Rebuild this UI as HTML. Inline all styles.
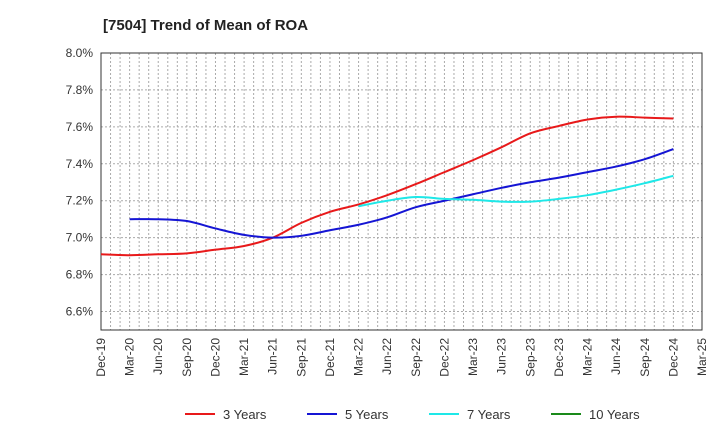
<!DOCTYPE html>
<html><head><meta charset="utf-8"><style>
body{margin:0;background:#fff;font-family:"Liberation Sans",sans-serif;}
svg text{font-family:"Liberation Sans",sans-serif;}
</style></head><body>
<svg id="chart" width="720" height="440" xmlns="http://www.w3.org/2000/svg">
<text x="103" y="30" font-size="15" font-weight="bold" fill="#222">[7504]  Trend of Mean of ROA</text>
<g id="grid"></g><g id="axes"></g><g id="series"></g><g id="legend"></g>
</svg>
<script>
const xLabels=["Dec-19","Mar-20","Jun-20","Sep-20","Dec-20","Mar-21","Jun-21","Sep-21","Dec-21","Mar-22","Jun-22","Sep-22","Dec-22","Mar-23","Jun-23","Sep-23","Dec-23","Mar-24","Jun-24","Sep-24","Dec-24","Mar-25"];
const yTicks=[6.6,6.8,7.0,7.2,7.4,7.6,7.8,8.0];
const s3=[6.91,6.905,6.91,6.915,6.935,6.955,7.00,7.08,7.14,7.18,7.23,7.29,7.355,7.42,7.49,7.565,7.605,7.64,7.655,7.65,7.645];
const s5=[null,7.10,7.10,7.09,7.05,7.015,7.00,7.01,7.04,7.07,7.11,7.165,7.20,7.235,7.27,7.30,7.325,7.355,7.385,7.425,7.48];
const s7=[null,null,null,null,null,null,null,null,null,7.17,7.20,7.22,7.21,7.205,7.195,7.195,7.21,7.23,7.26,7.295,7.335];
const s10=[];
const names=["3 Years","5 Years","7 Years","10 Years"];
const colors=["#e8191a","#1515d4","#1ee8e8","#1a8a1a"];
const L=101,R=702,T=53,B=330,yMin=6.5,yMax=8.0;
const NS="http://www.w3.org/2000/svg";
const X=i=>L+(R-L)*i/(xLabels.length-1);
const Y=v=>B-(B-T)*(v-yMin)/(yMax-yMin);
function mk(t,a,p){const e=document.createElementNS(NS,t);for(const k in a)e.setAttribute(k,a[k]);p.appendChild(e);return e;}
const grid=document.getElementById('grid'),axes=document.getElementById('axes'),ser=document.getElementById('series'),leg=document.getElementById('legend');
const months=(xLabels.length-1)*3;
for(let m=1;m<months;m++){const x=L+(R-L)*m/months;const l=mk('line',{x1:x,x2:x,y1:T,y2:B,stroke:'#aaa','stroke-dasharray':'2,2','stroke-width':1},grid);

}
yTicks.forEach(v=>{const y=Y(v);const l=mk('line',{x1:L,x2:R,y1:y,y2:y,stroke:'#aaa','stroke-dasharray':'2,2','stroke-width':1},grid);


const t=mk('text',{x:L-8,y:y+4,'text-anchor':'end','font-size':12,fill:'#333'},axes);t.textContent=v.toFixed(1)+'%';

});
const fr=mk('rect',{x:L,y:T,width:R-L,height:B-T,fill:'none',stroke:'#333','stroke-width':1},axes);


xLabels.forEach((s,i)=>{const x=X(i)+4;const t=mk('text',{x:0,y:0,'text-anchor':'end','font-size':12,fill:'#333',transform:`translate(${x},338) rotate(-90)`},axes);t.textContent=s;

});
function path(arr){const p=[];arr.forEach((v,i)=>{if(v!=null)p.push([X(i),Y(v)]);});if(p.length<2)return '';
let d=`M${p[0][0]},${p[0][1]}`;for(let i=0;i<p.length-1;i++){const p0=p[i-1]||p[i],p1=p[i],p2=p[i+1],p3=p[i+2]||p2;
d+=` C${p1[0]+(p2[0]-p0[0])/6},${p1[1]+(p2[1]-p0[1])/6} ${p2[0]-(p3[0]-p1[0])/6},${p2[1]-(p3[1]-p1[1])/6} ${p2[0]},${p2[1]}`;}return d;}
[s3,s5,s7,s10].forEach((s,k)=>{const d=path(s);if(d){const e=mk('path',{d:d,fill:'none',stroke:colors[k],'stroke-width':2},ser);

}
const lx=185+k*122;const ln=mk('line',{x1:lx,x2:lx+30,y1:414,y2:414,stroke:colors[k],'stroke-width':2},leg);


const t=mk('text',{x:lx+38,y:419,'font-size':13,fill:'#333'},leg);t.textContent=names[k];

});
</script>
</body></html>
